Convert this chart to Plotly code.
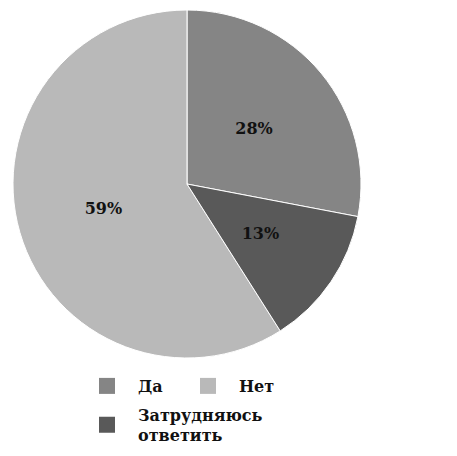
import plotly.graph_objects as go

# slice order matches the legend order; drawn counter-clockwise so that
# clockwise from 12 o'clock it reads Да, Затрудняюсь ответить, Нет
labels = ["Да", "Нет", "Затрудняюсь<br>ответить"]
values = [28, 59, 13]
colors = ["#858585", "#b9b9b9", "#595959"]

serif = "DejaVu Serif"
ink = "#111111"

W, H = 449, 448  # page body adds an 8px offset
PIE = 348        # plot area is square, pie fills it


def pie_trace(text_for, radius, fill, show_text):
    # text_for: which slice shows its percent on this layer
    f = (radius / PIE) / 2
    tmpl = ["%{percent:.0%}" if i == text_for else "" for i in range(len(values))]
    return go.Pie(
        labels=labels,
        values=values,
        sort=False,
        direction="counterclockwise",
        rotation=0,
        domain=dict(x=[0.5 - f, 0.5 + f], y=[0.5 - f, 0.5 + f]),
        marker=dict(
            colors=colors if fill else ["rgba(0,0,0,0)"] * len(values),
            line=dict(color="white", width=1 if fill else 0),
        ),
        texttemplate=tmpl if show_text else "",
        textposition="inside",
        insidetextorientation="horizontal",
        textfont=dict(family=serif, size=16, color=ink, weight="bold"),
        hoverinfo="label+percent" if fill else "skip",
        showlegend=False,
    )


fig = go.Figure()
fig.add_trace(pie_trace(1, PIE, True, True))     # slices + "Нет" label
fig.add_trace(pie_trace(0, 308, False, True))    # "Да" label layer
fig.add_trace(pie_trace(2, 248, False, True))    # "Затрудняюсь" label layer

# legend swatches (no data, legend only) so the squares can be bigger
legend_of = ["legend", "legend", "legend2"]
for lab, col, lg in zip(labels, colors, legend_of):
    fig.add_trace(
        go.Scatter(
            x=[None], y=[None],
            mode="markers",
            name=lab,
            legend=lg,
            marker=dict(symbol="square", size=20, color=col),
        )
    )

legend_style = dict(
    orientation="h",
    xref="container",
    yref="container",
    xanchor="left",
    yanchor="middle",
    itemwidth=52,
    entrywidthmode="pixels",
    itemsizing="trace",
    traceorder="normal",
    font=dict(family=serif, size=16, color=ink, weight="bold"),
    bgcolor="rgba(0,0,0,0)",
)

fig.update_layout(
    width=W,
    height=H,
    margin=dict(l=5, r=96, t=2, b=98),
    paper_bgcolor="white",
    plot_bgcolor="white",
    xaxis=dict(visible=False),
    yaxis=dict(visible=False),
    legend=dict(legend_style, entrywidth=34, x=68 / W, y=1 - 378 / H),
    legend2=dict(legend_style, entrywidth=150, x=68 / W, y=1 - 417 / H),
)

fig.write_html("out.html")
